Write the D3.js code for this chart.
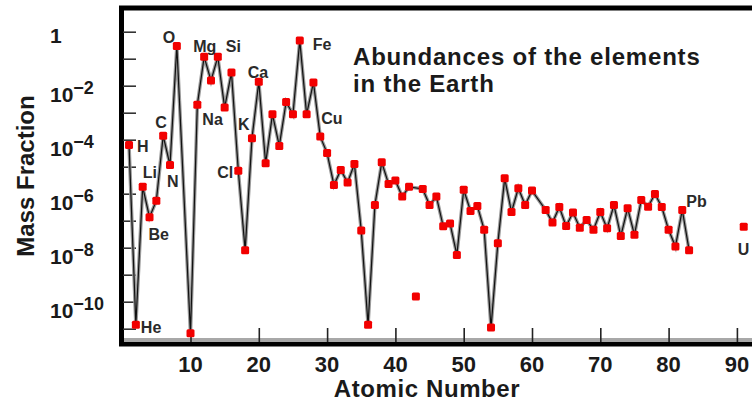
<!DOCTYPE html>
<html>
<head>
<meta charset="utf-8">
<script src="https://cdn.jsdelivr.net/npm/d3@7"></script>
<style>
  body { margin: 0; background: #fff; }
  text { font-family: "Liberation Sans", Arial, sans-serif; font-weight: bold; fill: #1a1a1a; }
</style>
</head>
<body>
<div id="chart"></div>
<script>
// Daten: Massenanteile der Elemente in der Erde
const symbols = ["H","He","Li","Be","B","C","N","O","Ne","Na","Mg","Al","Si","P","S","Cl","Ar","K","Ca","Sc",
  "Ti","V","Cr","Mn","Fe","Co","Ni","Cu","Zn","Ga","Ge","As","Se","Br","Kr","Rb","Sr","Y","Zr","Nb",
  "Mo","Ru","Rh","Pd","Ag","Cd","In","Sn","Sb","Te","I","Xe","Cs","Ba","La","Ce","Pr","Nd","Sm","Eu",
  "Gd","Tb","Dy","Ho","Er","Tm","Yb","Lu","Hf","Ta","W","Re","Os","Ir","Pt","Au","Hg","Tl","Pb","Bi"];
const atomicNumbers = [1,2,3,4,5,6,7,8,10,11,12,13,14,15,16,17,18,19,20,21,
  22,23,24,25,26,27,28,29,30,31,32,33,34,35,36,37,38,39,40,41,
  42,44,45,46,47,48,49,50,51,52,53,54,55,56,57,58,59,60,62,63,
  64,65,66,67,68,69,70,71,72,73,74,75,76,77,78,79,80,81,82,83];
const massFractions = [6.3e-5,1.4e-11,1.8e-6,1.35e-7,5.5e-7,1.4e-4,1.15e-5,0.295,6.8e-12,1.95e-3,
  0.117,0.0155,0.117,1.55e-3,0.031,7.1e-6,8.1e-9,1.12e-4,0.0141,1.35e-5,
  8.7e-4,5.9e-5,2.5e-3,8.7e-4,0.468,8.7e-4,0.0132,1.3e-4,3.2e-5,2.1e-6,
  7.6e-6,2.6e-6,1.26e-5,4.3e-8,1.4e-11,3.8e-7,1.45e-5,2.3e-6,3.1e-6,7.8e-7,
  1.8e-6,1.5e-6,3.8e-7,7.8e-7,6.2e-8,7.8e-8,5.4e-9,1.4e-6,2.3e-7,3.5e-7,
  4.6e-8,1.1e-11,1.45e-8,3.7e-6,2.1e-7,1.6e-6,3.8e-7,1.3e-6,2.5e-7,8.5e-8,
  3.2e-7,6.3e-8,2.0e-7,5.5e-8,1.07e-7,4.6e-8,2.1e-7,5.2e-8,3.8e-7,2.7e-8,
  2.9e-7,3.0e-8,5.9e-7,3.3e-7,9.8e-7,3.2e-7,4.6e-8,1.1e-8,2.5e-7,8.1e-9];

// Einzelpunkte ohne Verbindungslinie
const isolatedSymbols = ["Tc", "U"];
const isolatedNumbers = [43, 91];
const isolatedFractions = [1.55e-10, 6.0e-8];

// Achsen-Ticks
const xTicks = [10, 20, 30, 40, 50, 60, 70, 80, 90];
const yTickExponents = [0, -1, -2, -3, -4, -5, -6, -7, -8, -9, -10, -11];
const yLabelExponents = [0, -2, -4, -6, -8, -10];

// beschriftete Elemente und Versatz der Beschriftung
const labelOffsets = {
  H: [8, 7], He: [5, 8], Li: [0, -9], Be: [-1, 23], C: [-8, -8], N: [-3, 22],
  O: [-14, -3], Mg: [-11, -5], Si: [8, -5], Na: [5, 20], K: [-14, -8], Cl: [-21, 7],
  Ca: [-11, -4], Fe: [13, 9], Cu: [1, -13], Pb: [4, -3], U: [-6, 28]
};

const width = 752, height = 402;

const svg = d3.select("#chart").append("svg")
    .attr("width", width)
    .attr("height", height);

const x = d3.scaleLinear().domain([0, 100]).range([122.2, 805.2]);
const y = d3.scaleLog().domain([1, 1e-10]).range([31.7, 301.7]);

const series = symbols.map((s, i) => ({sym: s, z: atomicNumbers[i], v: massFractions[i]}));
const singles = isolatedSymbols.map((s, i) => ({sym: s, z: isolatedNumbers[i], v: isolatedFractions[i]}));

// Rahmen
svg.append("rect")
    .attr("x", 121.5)
    .attr("y", 8)
    .attr("width", 700)
    .attr("height", 336)
    .attr("fill", "none")
    .attr("stroke", "#000")
    .attr("stroke-width", 5);

svg.append("line")
    .attr("x1", 124).attr("x2", width)
    .attr("y1", 340).attr("y2", 340)
    .attr("stroke", "#a8a8a8")
    .attr("stroke-width", 4);

// y-Ticks innen am linken Rand
const yAxis = svg.append("g")
    .attr("transform", "translate(123,0)")
    .call(d3.axisRight(y)
        .tickValues(yTickExponents.map(e => Math.pow(10, e)))
        .tickSize(13)
        .tickFormat(""));
yAxis.select(".domain").remove();
yAxis.selectAll("line").attr("stroke", "#333").attr("stroke-width", 1.6);

// x-Ticks innen am unteren Rand
const xAxis = svg.append("g")
    .attr("transform", "translate(0,342)")
    .call(d3.axisTop(x)
        .tickValues(xTicks)
        .tickSize(14)
        .tickFormat(""));
xAxis.select(".domain").remove();
xAxis.selectAll("line").attr("stroke", "#222").attr("stroke-width", 1.6);

// Tick-Beschriftungen
svg.selectAll(".x-label")
    .data(xTicks)
    .enter()
    .append("text")
    .attr("class", "x-label")
    .attr("x", d => x(d))
    .attr("y", 372)
    .attr("text-anchor", "middle")
    .style("font-size", "22px")
    .text(d => d);

const yLabels = svg.selectAll(".y-label")
    .data(yLabelExponents)
    .enter()
    .append("text")
    .attr("class", "y-label")
    .attr("x", 50)
    .attr("y", d => y(Math.pow(10, d)) + (d === 0 ? 11 : 16))
    .style("font-size", "21px");

yLabels.each(function (d) {
    const t = d3.select(this);
    if (d === 0) {
        t.text("1");
    } else {
        t.append("tspan").text("10");
        t.append("tspan")
            .attr("dy", -8)
            .style("font-size", "18px")
            .text("\u2212" + (-d));
    }
});

// Achsenbeschriftung
svg.append("text")
    .attr("x", 427)
    .attr("y", 397)
    .attr("text-anchor", "middle")
    .style("font-size", "24px")
    .style("letter-spacing", "0.6px")
    .text("Atomic Number");

svg.append("text")
    .attr("transform", "rotate(-90)")
    .attr("x", -176)
    .attr("y", 34)
    .attr("text-anchor", "middle")
    .style("font-size", "24px")
    .text("Mass Fraction");

// Titel
const title = svg.append("text")
    .attr("x", 353)
    .attr("y", 65)
    .style("font-size", "24px")
    .style("letter-spacing", "0.8px");
title.append("tspan").attr("x", 353).text("Abundances of the elements");
title.append("tspan").attr("x", 353).attr("dy", 27).text("in the Earth");

// Linie
const line = d3.line()
    .x(d => x(d.z))
    .y(d => y(d.v));

svg.append("path")
    .datum(series)
    .attr("fill", "none")
    .attr("stroke", "#9a9a9a")
    .attr("stroke-width", 3.5)
    .attr("d", line);

svg.append("path")
    .datum(series)
    .attr("fill", "none")
    .attr("stroke", "#111")
    .attr("stroke-width", 1.2)
    .attr("d", line);

// Punkte
const allPoints = series.concat(singles);

svg.selectAll(".dot")
    .data(allPoints)
    .enter()
    .append("rect")
    .attr("class", "dot")
    .attr("x", d => x(d.z) - 4)
    .attr("y", d => y(d.v) - 4)
    .attr("width", 8)
    .attr("height", 8)
    .attr("rx", 1.5)
    .attr("fill", "#f20000");

// Elementbeschriftungen
svg.selectAll(".el-label")
    .data(allPoints.filter(d => labelOffsets[d.sym]))
    .enter()
    .append("text")
    .attr("class", "el-label")
    .attr("x", d => x(d.z) + labelOffsets[d.sym][0])
    .attr("y", d => y(d.v) + labelOffsets[d.sym][1])
    .style("font-size", "16px")
    .style("fill", "#2a2a2a")
    .text(d => d.sym);
</script>
</body>
</html>
